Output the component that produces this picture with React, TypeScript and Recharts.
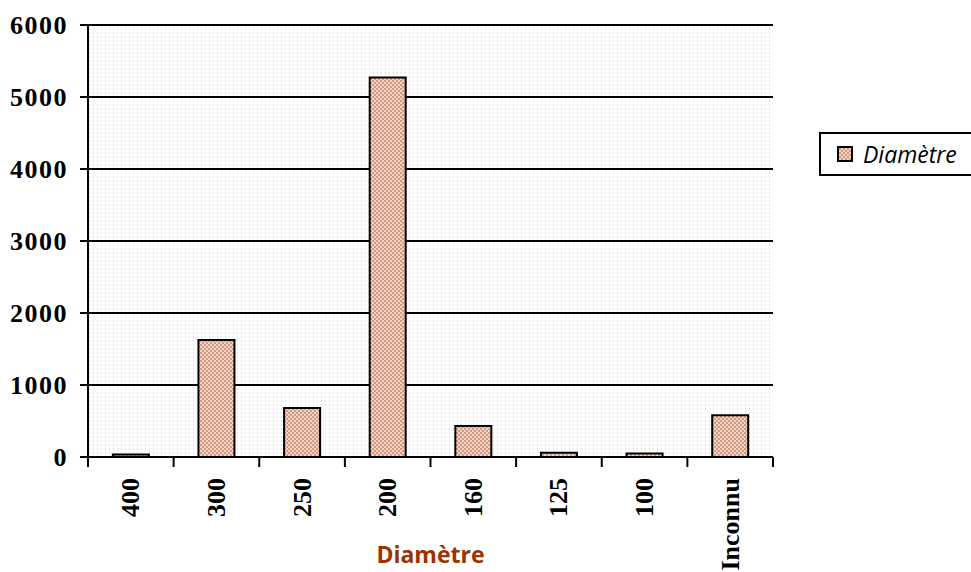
import { BarChart, Bar, XAxis, YAxis, CartesianGrid, Label } from "recharts"

const categories = ["400", "300", "250", "200", "160", "125", "100", "Inconnu"]
const counts = [35, 1625, 680, 5270, 430, 60, 50, 580]
const yTicks = [0, 1000, 2000, 3000, 4000, 5000, 6000]

const data = categories.map((name, i) => ({ name, value: counts[i] }))

const serif = "'Liberation Serif', 'DejaVu Serif', serif"
const sans = "'Open Sans', 'DejaVu Sans', sans-serif"

const XTick = (props: any) => {
  const { x, y, payload, index } = props
  const half = payload.offset ?? 0
  return (
    <g>
      <line x1={x - half} x2={x - half} y1={y - 8} y2={y + 2} stroke="#000" strokeWidth={2} />
      {index === categories.length - 1 && (
        <line x1={x + half} x2={x + half} y1={y - 8} y2={y + 2} stroke="#000" strokeWidth={2} />
      )}
      <text
        x={0}
        y={0}
        transform={`translate(${x},${y + 13}) rotate(-90)`}
        textAnchor="end"
        dominantBaseline="central"
        fontFamily={serif}
        fontWeight="bold"
        fontSize={26}
        fill="#000"
      >
        {payload.value}
      </text>
    </g>
  )
}

const LegendBox = () => (
  <div
    style={{
      position: "absolute",
      left: 819,
      top: 132,
      border: "2px solid #000",
      borderRight: "none",
      background: "#fff",
      width: 160,
      height: 44,
      display: "flex",
      alignItems: "center",
      boxSizing: "border-box",
    }}
  >
    <svg width={34} height={40}>
      <rect x={17} y={13} width={14} height={14} fill="url(#barFill)" stroke="#000" strokeWidth={2} />
    </svg>
    <span style={{ fontFamily: sans, fontStyle: "italic", fontSize: 23, color: "#000", marginLeft: 8 }}>
      Diamètre
    </span>
  </div>
)

export default function App() {
  return (
    <div style={{ position: "absolute", left: 0, top: 0, width: 971, height: 572, background: "#fff", overflow: "hidden" }}>
      <BarChart
        width={971}
        height={572}
        data={data}
        margin={{ top: 25, right: 198, bottom: 0, left: 0 }}
        barCategoryGap="29%"
      >
        <defs>
          <pattern id="bgDots" width={4} height={4} patternUnits="userSpaceOnUse">
            <rect width={4} height={4} fill="#fff" />
            <rect x={1} y={0} width={1} height={2} fill="#d4e4f7" />
          </pattern>
          <pattern id="barFill" width={4} height={4} patternUnits="userSpaceOnUse">
            <rect width={4} height={4} fill="#f3d3c3" />
            <rect x={0} y={0} width={2} height={2} fill="#d29880" />
            <rect x={2} y={2} width={2} height={2} fill="#d29880" />
          </pattern>
        </defs>
        <CartesianGrid
          vertical={false}
          stroke="#000"
          strokeWidth={2}
          fill="url(#bgDots)"
          fillOpacity={1}
        />
        <XAxis
          dataKey="name"
          height={115}
          axisLine={{ stroke: "#000", strokeWidth: 2 }}
          tickLine={false}
          tick={<XTick />}
          interval={0}
        >
          <Label
            value="Diamètre"
            position="insideBottom"
            offset={9}
            style={{ fontFamily: sans, fontWeight: "bold", fontSize: 23, fill: "#993300" }}
          />
        </XAxis>
        <YAxis
          width={88}
          domain={[0, 6000]}
          ticks={yTicks}
          interval={0}
          axisLine={{ stroke: "#000", strokeWidth: 2 }}
          tickLine={{ stroke: "#000", strokeWidth: 2 }}
          tickSize={8}
          tickMargin={12}
          tick={{ fontFamily: serif, fontWeight: "bold", fontSize: 26, fill: "#000", letterSpacing: 1.5 }}
        />
        <YAxis
          yAxisId="right"
          orientation="right"
          width={0}
          domain={[0, 6000]}
          tick={false}
          tickLine={false}
          axisLine={{ stroke: "#000", strokeWidth: 2 }}
        />
        <Bar
          dataKey="value"
          name="Diamètre"
          fill="url(#barFill)"
          stroke="#000"
          strokeWidth={2}
          isAnimationActive={false}
        />
      </BarChart>
      <LegendBox />
    </div>
  )
}
